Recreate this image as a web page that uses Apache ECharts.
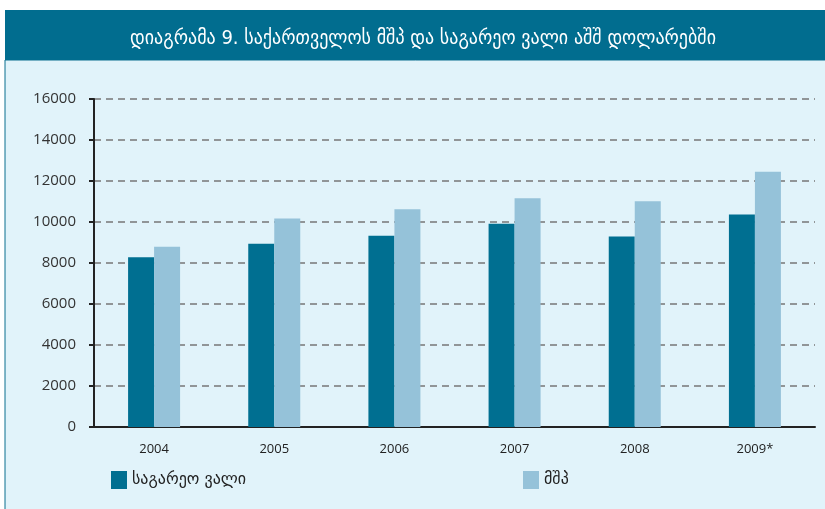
<!DOCTYPE html>
<html>
<head>
<meta charset="utf-8">
<script src="https://cdn.jsdelivr.net/npm/echarts@6/dist/echarts.min.js"></script>
<style>
body { margin: 0; background: #fff; }
#main { width: 825px; height: 509px; }
</style>
</head>
<body>
<div id="main"></div>
<script>
// data
var years = ['2004', '2005', '2006', '2007', '2008', '2009*'];
var debtValues = [8280, 8940, 9330, 9920, 9290, 10370];
var gdpValues = [8790, 10170, 10620, 11160, 11010, 12450];
var seriesNames = ['საგარეო ვალი', 'მშპ'];

var chart = echarts.init(document.getElementById('main'));

var legendText = { fontSize : 16, color : '#222', fontFamily : 'DejaVu Sans' };

var option = {
	backgroundColor : '#ffffff',
	animation : false,
	textStyle : {
		fontFamily : 'Open Sans, DejaVu Sans, sans-serif'
	},
	title : {
		text : 'დიაგრამა 9. საქართველოს მშპ და საგარეო ვალი აშშ დოლარებში',
		left : 418,
		top : 24,
		textAlign : 'center',
		textStyle : {
			color : '#ffffff',
			fontSize : 20,
			fontWeight : 'normal',
			fontFamily : 'DejaVu Sans Condensed, DejaVu Sans'
		}
	},
	graphic : [
		{
			type : 'rect',
			z : -10,
			shape : { x : 5, y : 60, width : 830, height : 460 },
			style : { fill : '#e1f3fa', stroke : '#0a6e8e', lineWidth : 1 }
		},
		{
			type : 'rect',
			z : -9,
			shape : { x : 5, y : 10, width : 830, height : 50 },
			style : { fill : '#016d8f' }
		}
	],
	legend : [
		{
			data : [seriesNames[0]],
			left : 106,
			top : 466,
			icon : 'rect',
			itemWidth : 16,
			itemHeight : 18,
			itemGap : 6,
			textStyle : legendText
		},
		{
			data : [seriesNames[1]],
			left : 518,
			top : 466,
			icon : 'rect',
			itemWidth : 16,
			itemHeight : 18,
			itemGap : 6,
			textStyle : legendText
		}
	],
	grid : {
		left : 94,
		right : 10,
		top : 99,
		bottom : 82,
		containLabel : false
	},
	xAxis : {
		type : 'category',
		data : years,
		axisLine : {
			show : true,
			lineStyle : { color : '#222', width : 2 }
		},
		axisTick : { show : false },
		axisLabel : {
			fontSize : 13,
			color : '#222',
			margin : 16
		}
	},
	yAxis : {
		type : 'value',
		min : 0,
		max : 16000,
		interval : 2000,
		axisLine : {
			show : true,
			lineStyle : { color : '#222', width : 2 }
		},
		axisTick : {
			show : true,
			length : 5,
			lineStyle : { color : '#222', width : 2 }
		},
		axisLabel : {
			fontSize : 15,
			color : '#333',
			margin : 18,
			formatter : function(v) {
				return String(v);
			}
		},
		splitLine : {
			show : true,
			lineStyle : { color : '#777', width : 1.5, type : [7, 5] }
		}
	},
	series : [
		{
			name : seriesNames[0],
			type : 'bar',
			data : debtValues,
			barWidth : 26,
			barGap : '0%',
			itemStyle : { color : '#006f91' }
		},
		{
			name : seriesNames[1],
			type : 'bar',
			data : gdpValues,
			barWidth : 26,
			barGap : '0%',
			itemStyle : { color : '#95c2d9' }
		}
	]
};

chart.setOption(option);
</script>
</body>
</html>
